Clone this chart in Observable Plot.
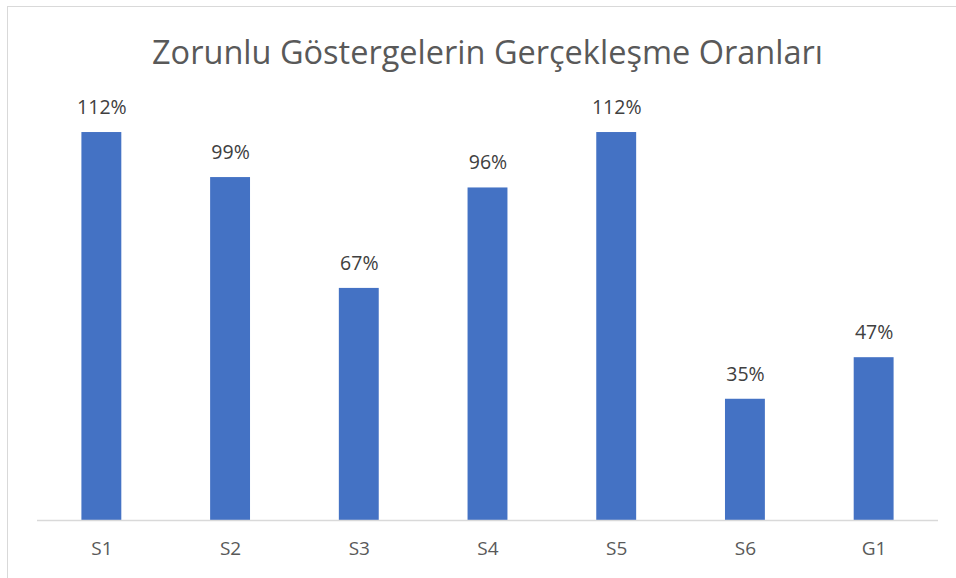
<!DOCTYPE html>
<html>
<head>
<meta charset="utf-8">
<script src="https://cdn.jsdelivr.net/npm/d3@7"></script>
<script src="https://cdn.jsdelivr.net/npm/@observablehq/plot@0.6"></script>
<style>
  html, body { margin: 0; padding: 0; background: #fff; }
  #wrap { position: relative; width: 956px; height: 578px; overflow: hidden; font-family: "Open Sans", sans-serif; }
  #frame { position: absolute; left: 7px; top: 6px; width: 1000px; height: 1000px; border-left: 1.5px solid #d9d9d9; border-top: 1.5px solid #d9d9d9; box-sizing: border-box; }
  #title { position: absolute; left: 0; width: 975px; top: 26px; text-align: center; font-size: 32.5px; color: #595959; line-height: 52px; white-space: nowrap; }
  #chart { position: absolute; left: 0; top: 90px; }
</style>
</head>
<body>
<div id="wrap">
  <div id="frame"></div>
  <div id="title">Zorunlu Göstergelerin Gerçekleşme Oranları</div>
  <div id="chart"></div>
</div>
<script>
const categories = ["S1", "S2", "S3", "S4", "S5", "S6", "G1"];
const values = [112, 99, 67, 96, 112, 35, 47];
const labels = ["112%", "99%", "67%", "96%", "112%", "35%", "47%"];

const data = categories.map((c, i) => ({cat: c, value: values[i], label: labels[i]}));

const H = 488;
const base = 430;
const chart = Plot.plot({
  width: 956,
  height: H,
  marginLeft: 37,
  marginRight: 18,
  marginTop: 0,
  marginBottom: H - base,
  style: {fontFamily: "Open Sans, sans-serif", background: "transparent"},
  x: {domain: categories, paddingInner: 0.69, paddingOuter: 0.345, round: false, label: null},
  y: {domain: [0, 120], range: [base, base - 120 * 3.464], axis: null},
  marks: [
    Plot.barY(data, {x: "cat", y: "value", fill: "#4472C4"}),
    Plot.ruleY([0], {stroke: "#d9d9d9", strokeWidth: 1.5}),
    Plot.text(data, {x: "cat", y: "value", text: "label", dy: -25, fontSize: 19.5, fill: "#404040"}),
    Plot.axisX({tickSize: 0, tickPadding: 21, fontSize: 19, fill: "#595959", label: null})
  ]
});
document.getElementById("chart").appendChild(chart);
</script>
</body>
</html>
